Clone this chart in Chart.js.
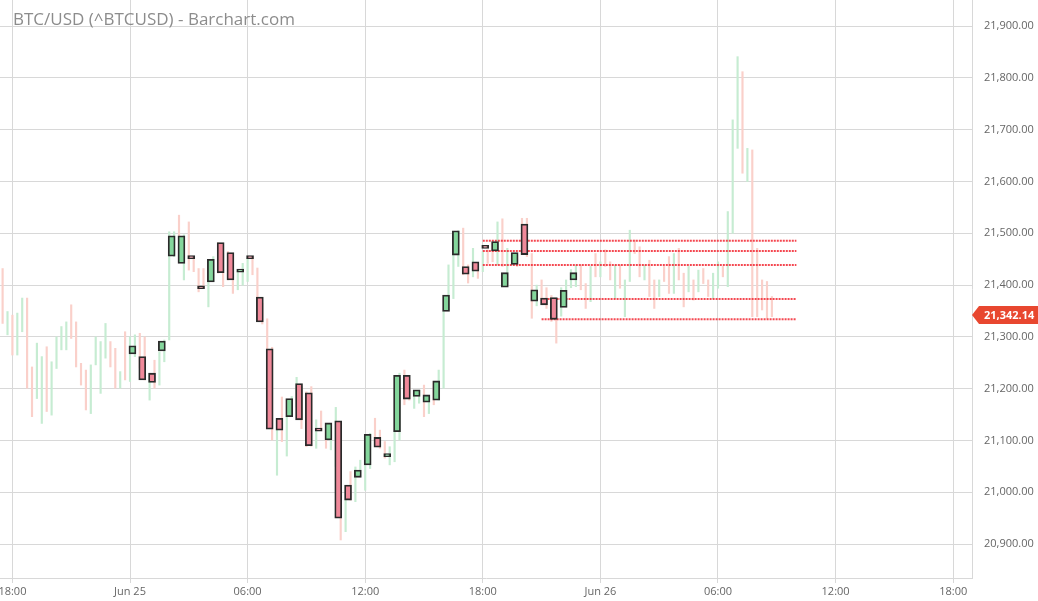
<!DOCTYPE html>
<html>
<head>
<meta charset="utf-8">
<script src="https://cdn.jsdelivr.net/npm/chart.js@4/dist/chart.umd.min.js"></script>
<style>
  html, body { margin: 0; padding: 0; background: #fff; }
  canvas { display: block; }
</style>
</head>
<body>
<canvas id="chart" width="1038" height="601"></canvas>
<script>
// x values are hours counted from Jun 25 00:00
const title = 'BTC/USD (^BTCUSD) - Barchart.com';
const xTickHours = [-6, 0, 6, 12, 18, 24, 30, 36, 42];
const xTickLabels = ['18:00', 'Jun 25', '06:00', '12:00', '18:00', 'Jun 26', '06:00', '12:00', '18:00'];
const lastPrice = 21342.14;

// 15 minute bars (light), first one Jun 24 17:30
const fStart = -6.5;
const fHigh = [
  21432, 21349, 21342, 21346, 21375, 21375, 21242, 21288, 21262, 21281,
  21252, 21300, 21320, 21329, 21362, 21329, 21249, 21236, 21246, 21300,
  21291, 21326, 21291, 21278, 21233, 21310,
  21300, 21304, 21307, 21300, 21230, 21255, 21271, 21294, 21503, 21503,
  21535, 21497, 21522, 21452, 21432, 21432, 21416, 21455, 21482, 21461,
  21465, 21410, 21426, 21442, 21452, 21455, 21433, 21365, 21335, 21280,
  21139, 21184, 21146, 21185, 21222, 21204, 21194, 21204, 21140, 21157,
  21120, 21133, 21164, 21100, 20985, 21040, 21049, 21062, 21094, 21114,
  21143, 21120, 21098, 21088, 21120, 21230, 21236, 21217, 21194, 21197,
  21207, 21185, 21214, 21236, 21349, 21439, 21461, 21505, 21510, 21439,
  21471, 21442, 21465, 21468, 21481, 21522, 21528, 21471, 21461, 21458,
  21529, 21529, 21461, 21400, 21410, 21395, 21380, 21374, 21395, 21410,
  21430, 21439, 21439, 21403, 21436, 21461, 21445, 21468, 21445, 21439,
  21439, 21410, 21506, 21487, 21474, 21439, 21448, 21410, 21410, 21436,
  21455, 21461, 21471, 21423, 21436, 21410, 21429, 21432, 21410, 21423,
  21445, 21436, 21542, 21719, 21841, 21812, 21664, 21661, 21471, 21410,
  21407, 21378
];
const fLow = [
  21326, 21304, 21265, 21265, 21310, 21201, 21146, 21181, 21133, 21156,
  21149, 21239, 21275, 21275, 21297, 21242, 21207, 21159, 21152, 21246,
  21191, 21259, 21242, 21201, 21201, 21217,
  21214, 21262, 21240, 21217, 21178, 21201, 21207, 21252, 21294, 21455,
  21494, 21410, 21429, 21426, 21387, 21394, 21358, 21407, 21423, 21397,
  21410, 21384, 21391, 21400, 21407, 21420, 21360, 21325, 21270, 21101,
  21033, 21098, 21070, 21146, 21165, 21123, 21088, 21089, 21085, 21120,
  21085, 21082, 21050, 20908, 20924, 20985, 20982, 21030, 21004, 21046,
  21091, 21085, 21066, 21053, 21059, 21101, 21169, 21178, 21162, 21172,
  21146, 21152, 21169, 21178, 21201, 21352, 21374, 21436, 21420, 21404,
  21416, 21413, 21426, 21442, 21445, 21439, 21436, 21400, 21439, 21436,
  21461, 21455, 21336, 21360, 21370, 21355, 21330, 21288, 21340, 21358,
  21395, 21397, 21391, 21355, 21368, 21416, 21416, 21436, 21410, 21374,
  21394, 21339, 21407, 21461, 21416, 21410, 21378, 21355, 21378, 21407,
  21384, 21384, 21410, 21358, 21387, 21371, 21387, 21403, 21378, 21374,
  21394, 21416, 21397, 21500, 21664, 21616, 21600, 21339, 21339, 21352,
  21336, 21339
];
const fUp = [
  0, 1, 0, 1, 1, 0, 0, 1, 1, 0,
  1, 1, 1, 1, 0, 0, 0, 0, 1, 1,
  1, 1, 0, 0, 1, 0,
  1, 1, 0, 0, 1, 0, 1, 1, 1, 1,
  0, 1, 0, 0, 0, 0, 1, 1, 0, 0,
  0, 0, 1, 1, 1, 0, 0, 0, 0, 0,
  1, 0, 1, 1, 1, 0, 0, 0, 1, 0,
  0, 1, 1, 0, 1, 0, 1, 1, 1, 1,
  0, 0, 0, 1, 1, 1, 0, 0, 1, 1,
  0, 1, 0, 1, 1, 1, 1, 1, 0, 0,
  1, 0, 1, 0, 0, 1, 0, 1, 1, 0,
  0, 0, 0, 1, 0, 0, 0, 0, 1, 1,
  1, 1, 0, 0, 1, 0, 1, 0, 0, 1,
  0, 1, 1, 0, 0, 1, 0, 0, 1, 0,
  0, 1, 0, 0, 1, 0, 1, 0, 0, 1,
  1, 0, 1, 1, 1, 0, 1, 0, 0, 0,
  0, 0
];

// 30 minute bars (highlighted), Jun 25 00:00 to 22:30
const bStart = 0;
const bOpen = [
  21267, 21262, 21230, 21273, 21456, 21442, 21453, 21395, 21406, 21482,
  21463, 21425, 21453, 21377, 21277, 21143, 21146, 21210, 21192, 21120,
  21101, 21138, 21014, 21029, 21053, 21106, 21069, 21117, 21226, 21185,
  21174, 21178, 21349, 21458, 21436, 21445, 21473, 21466, 21396, 21440,
  21518, 21369, 21375, 21376, 21357, 21410
];
const bClose = [
  21283, 21217, 21212, 21292, 21495, 21495, 21451, 21393, 21450, 21424,
  21410, 21427, 21451, 21329, 21122, 21120, 21181, 21140, 21090, 21118,
  21134, 20950, 20985, 21043, 21112, 21087, 21071, 21226, 21180, 21198,
  21188, 21215, 21381, 21505, 21421, 21427, 21471, 21484, 21424, 21463,
  21459, 21391, 21362, 21334, 21390, 21424
];

// red dotted levels
const levelValues = [21485.7, 21465.8, 21438.8, 21373.1, 21334.0];
const levelFrom = [18, 18, 18, 21, 21];
const levelTo = [34, 34, 34, 34, 34];

const faintData = fHigh.map((h, i) => ({ x: fStart + i * 0.25, y: [fLow[i], h] }));
const boldData = bOpen.map((o, i) => ({ x: bStart + i * 0.5 + 0.125, y: [o, bClose[i]] }));

const levelSets = levelValues.map((v, i) => ({
  type: 'line',
  data: [{ x: levelFrom[i], y: v }, { x: levelTo[i], y: v }],
  borderColor: 'rgba(242, 40, 50, 0.85)',
  borderWidth: 2,
  borderDash: [2, 1],
  pointRadius: 0,
  order: 1
}));

const labelFont = { family: 'Open Sans', size: 11 };

// no extra room for edge labels, the plot fills the canvas
const noPad = s => {
  s.paddingTop = 0; s.paddingBottom = 0;
  s.paddingLeft = 0; s.paddingRight = 0;
};

const overlay = {
  id: 'overlay',
  afterDraw(chart) {
    const c = chart.ctx;
    const y = chart.scales.y.getPixelForValue(lastPrice);
    const right = chart.chartArea.right;
    c.save();
    c.fillStyle = '#8c8c8c';
    c.font = '17px "Open Sans"';
    c.textBaseline = 'alphabetic';
    c.fillText(title, 13, 25);

    c.fillStyle = '#e8472f';
    c.beginPath();
    c.moveTo(right, y);
    c.lineTo(right + 7, y - 9);
    c.lineTo(chart.width, y - 9);
    c.lineTo(chart.width, y + 9);
    c.lineTo(right + 7, y + 9);
    c.closePath();
    c.fill();
    c.fillStyle = '#fff';
    c.font = 'bold 11px "Open Sans"';
    c.textBaseline = 'middle';
    c.fillText(lastPrice.toLocaleString('en-US', { minimumFractionDigits: 2 }), right + 12, y + 0.5);
    c.restore();
  }
};

new Chart(document.getElementById('chart'), {
  type: 'bar',
  data: {
    datasets: [
      {
        data: faintData,
        backgroundColor: ctx => fUp[ctx.dataIndex] ? '#c6ecd2' : '#fad0ca',
        barThickness: 1.5,
        grouped: false,
        order: 2
      },
      ...levelSets,
      {
        data: boldData,
        backgroundColor: ctx => bClose[ctx.dataIndex] >= bOpen[ctx.dataIndex] ? '#84d69c' : '#f0899a',
        borderColor: '#2a2a2a',
        borderWidth: 1.8,
        borderSkipped: false,
        barThickness: 7,
        minBarLength: 3,
        grouped: false,
        order: 0
      }
    ]
  },
  options: {
    responsive: false,
    devicePixelRatio: 1,
    animation: false,
    layout: { padding: 0 },
    plugins: {
      legend: { display: false },
      tooltip: { enabled: false }
    },
    scales: {
      x: {
        type: 'linear',
        offset: false,
        min: -6.633,
        max: 42.96,
        afterFit: s => { s.height = 23; noPad(s); },
        grid: { color: '#d8d8d8', tickLength: 5, offset: false },
        border: { color: '#d8d8d8' },
        ticks: {
          stepSize: 6,
          includeBounds: false,
          maxRotation: 0,
          padding: 2,
          color: '#666',
          font: labelFont,
          callback: v => xTickLabels[xTickHours.indexOf(v)] ?? ''
        }
      },
      y: {
        position: 'right',
        min: 20834.6,
        max: 21950.4,
        afterFit: s => { s.width = 66; noPad(s); },
        grid: { color: '#d8d8d8', drawTicks: false },
        border: { color: '#d8d8d8' },
        ticks: {
          stepSize: 100,
          includeBounds: false,
          padding: 12,
          color: '#666',
          font: labelFont,
          callback: v => v.toLocaleString('en-US', { minimumFractionDigits: 2, maximumFractionDigits: 2 })
        }
      }
    }
  },
  plugins: [overlay]
});
</script>
</body>
</html>
